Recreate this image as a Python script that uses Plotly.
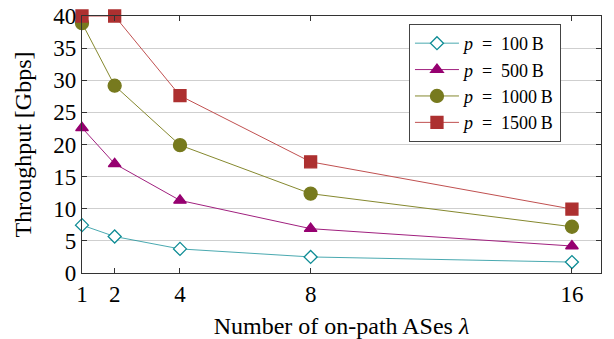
import plotly.graph_objects as go

x_vals = [1, 2, 4, 8, 16]
p100 = [7.45, 5.68, 3.75, 2.5, 1.7]
p500 = [22.6, 17.0, 11.3, 6.9, 4.2]
p1000 = [38.9, 29.15, 19.9, 12.35, 7.2]
p1500 = [40.0, 40.0, 27.6, 17.3, 9.95]
names = ["<i>p</i>\u2002=\u2002100\u2009B", "<i>p</i>\u2002=\u2002500\u2009B",
         "<i>p</i>\u2002=\u20021000\u2009B", "<i>p</i>\u2002=\u20021500\u2009B"]
y_ticks = [0, 5, 10, 15, 20, 25, 30, 35, 40]

FONT = "Liberation Serif"

series = [
    (p100, names[0], "#0E8C95", "rgba(14,140,149,0.75)", "diamond", "white", 10),
    (p500, names[1], "#960070", "#A0207E", "triangle-up", "#960070", 11),
    (p1000, names[2], "#777A1E", "#85882E", "circle", "#777A1E", 13),
    (p1500, names[3], "#AD3030", "#C05050", "square", "#AD3030", 12),
]

fig = go.Figure()
for ys, nm, mc, lc, sym, fill, sz in series:
    fig.add_trace(go.Scatter(
        x=x_vals, y=ys, name=nm, mode="lines+markers",
        line=dict(color=lc, width=1),
        marker=dict(symbol=sym, size=sz, color=fill, line=dict(color=mc, width=1.3)),
        cliponaxis=False,
    ))

fig.update_layout(
    width=614, height=339,
    margin=dict(l=82, r=13, t=16, b=66, autoexpand=False),
    paper_bgcolor="white", plot_bgcolor="white",
    font=dict(family=FONT, size=22, color="black"),
    showlegend=True,
    legend=dict(
        x=0.63, y=0.969, xanchor="left", yanchor="top",
        bgcolor="white", bordercolor="#444", borderwidth=1,
        font=dict(family=FONT, size=18),
        tracegroupgap=0, itemwidth=44,
    ),
    xaxis=dict(
        range=[1, 16.89], tickvals=x_vals, ticktext=[str(v) for v in x_vals],
        showgrid=False, zeroline=False, automargin=False,
        showline=True, linecolor="#333", linewidth=1.2, mirror="ticks",
        ticks="inside", ticklen=5, tickcolor="#333",
        title=dict(text="Number of on-path ASes <i>λ</i>", font=dict(family=FONT, size=24), standoff=11),
        tickfont=dict(family=FONT, size=23),
    ),
    yaxis=dict(
        range=[0, 40], tickvals=y_ticks, automargin=False,
        showgrid=True, gridcolor="#CFCFCF", gridwidth=1, zeroline=False,
        showline=True, linecolor="#333", linewidth=1.2, mirror="ticks",
        ticks="inside", ticklen=5, tickcolor="#333",
        title=dict(text="Throughput [Gbps]", font=dict(family=FONT, size=24), standoff=14),
        tickfont=dict(family=FONT, size=23),
    ),
)

fig.write_html("out.html")
